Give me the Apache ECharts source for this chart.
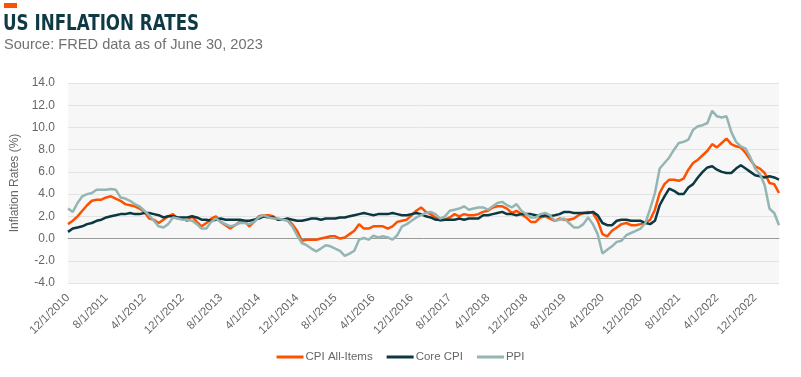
<!DOCTYPE html>
<html>
<head>
<meta charset="utf-8">
<script src="https://cdn.jsdelivr.net/npm/echarts@6/dist/echarts.min.js"></script>
<style>
  html, body { margin: 0; padding: 0; background: #fff; }
  #chart { width: 801px; height: 377px; }
</style>
</head>
<body>
<div id="chart"></div>
<script>
// monthly year-over-year rates, 12/1/2010 .. 5/1/2023
var seriesNames = ['CPI All-Items', 'Core CPI', 'PPI'];
var seriesColors = ['#ff5000', '#0c3841', '#93b5b3'];

var cpiAll = [1.3,
  1.6, 2.0, 2.5, 3.0, 3.4, 3.5, 3.5, 3.7, 3.8, 3.6, 3.4, 3.1,
  3.0, 2.9, 2.7, 2.4, 1.8, 1.7, 1.4, 1.7, 2.0, 2.2, 1.8, 1.8,
  1.6, 2.0, 1.5, 1.1, 1.4, 1.8, 2.0, 1.5, 1.2, 0.9, 1.2, 1.5,
  1.6, 1.1, 1.5, 2.0, 2.1, 2.1, 2.0, 1.7, 1.7, 1.7, 1.3, 0.7,
  -0.2, -0.1, -0.1, -0.1, 0.0, 0.1, 0.2, 0.2, 0.0, 0.1, 0.4, 0.7,
  1.3, 0.9, 0.9, 1.1, 1.1, 1.1, 0.9, 1.1, 1.5, 1.6, 1.7, 2.1,
  2.5, 2.8, 2.4, 2.2, 1.9, 1.6, 1.7, 1.9, 2.2, 2.0, 2.2, 2.1,
  2.1, 2.2, 2.4, 2.5, 2.8, 2.9, 2.9, 2.7, 2.3, 2.5, 2.2, 1.9,
  1.5, 1.5, 1.9, 2.0, 1.8, 1.6, 1.8, 1.7, 1.7, 1.8, 2.1, 2.3,
  2.4, 2.3, 1.6, 0.4, 0.2, 0.7, 1.0, 1.3, 1.4, 1.2, 1.2, 1.3,
  1.4, 1.7, 2.6, 4.1, 4.9, 5.3, 5.3, 5.2, 5.4, 6.2, 6.8, 7.1,
  7.5, 7.9, 8.5, 8.2, 8.6, 9.0, 8.5, 8.3, 8.2, 7.7, 7.1, 6.5,
  6.3, 5.9, 5.0, 4.9, 4.1];

var coreCpi = [0.6,
  0.9, 1.0, 1.1, 1.3, 1.4, 1.6, 1.7, 1.9, 2.0, 2.1, 2.2, 2.2,
  2.3, 2.2, 2.2, 2.3, 2.3, 2.2, 2.1, 1.9, 2.0, 2.0, 1.9, 1.9,
  1.9, 2.0, 1.9, 1.7, 1.7, 1.6, 1.7, 1.8, 1.7, 1.7, 1.7, 1.7,
  1.6, 1.6, 1.7, 1.8, 2.0, 1.9, 1.9, 1.7, 1.7, 1.8, 1.7, 1.6,
  1.6, 1.7, 1.8, 1.8, 1.7, 1.8, 1.8, 1.8, 1.9, 1.9, 2.0, 2.1,
  2.2, 2.3, 2.2, 2.1, 2.2, 2.2, 2.2, 2.3, 2.2, 2.1, 2.1, 2.2,
  2.3, 2.2, 2.0, 1.9, 1.7, 1.7, 1.7, 1.7, 1.7, 1.8, 1.7, 1.8,
  1.8, 1.8, 2.1, 2.1, 2.2, 2.3, 2.4, 2.2, 2.2, 2.1, 2.2, 2.2,
  2.2, 2.1, 2.0, 2.1, 2.0, 2.1, 2.2, 2.4, 2.4, 2.3, 2.3, 2.3,
  2.3, 2.4, 2.1, 1.4, 1.2, 1.2, 1.6, 1.7, 1.7, 1.6, 1.6, 1.6,
  1.4, 1.3, 1.6, 3.0, 3.8, 4.5, 4.3, 4.0, 4.0, 4.6, 4.9, 5.5,
  6.0, 6.4, 6.5, 6.2, 6.0, 5.9, 5.9, 6.3, 6.6, 6.3, 6.0, 5.7,
  5.6, 5.5, 5.6, 5.5, 5.3];

var ppi = [2.7,
  2.4, 3.2, 3.8, 4.0, 4.1, 4.4, 4.4, 4.4, 4.45, 4.4, 3.7, 3.6,
  3.4, 3.1, 2.9, 2.5, 2.1, 1.6, 1.1, 1.0, 1.3, 1.9, 1.8, 1.7,
  1.7, 1.6, 1.3, 0.9, 0.9, 1.5, 1.8, 1.5, 1.3, 1.1, 1.2, 1.4,
  1.4, 1.3, 1.5, 1.9, 2.1, 1.9, 1.8, 1.8, 1.7, 1.6, 1.1, 0.3,
  -0.4, -0.6, -0.9, -1.15, -0.9, -0.6, -0.7, -0.9, -1.1, -1.55, -1.35, -1.1,
  -0.1, 0.05, -0.1, 0.25, 0.1, 0.2, 0.1, -0.1, 0.3, 1.1, 1.3, 1.6,
  1.9, 2.1, 2.3, 2.4, 2.2, 1.8, 2.0, 2.5, 2.6, 2.7, 2.9, 2.6,
  2.7, 2.8, 2.8, 2.6, 2.9, 3.2, 3.3, 3.0, 2.8, 3.1, 2.5, 2.2,
  1.9, 1.9, 2.2, 2.3, 2.1, 1.6, 1.7, 1.8, 1.4, 1.0, 1.0, 1.3,
  1.9, 1.3, 0.4, -1.35, -1.0, -0.7, -0.3, -0.2, 0.3, 0.5, 0.7, 0.9,
  1.4, 2.7, 4.1, 6.3, 6.8, 7.3, 8.0, 8.6, 8.7, 8.9, 9.8, 10.1,
  10.2, 10.4, 11.5, 11.0, 10.9, 11.0, 9.6, 8.7, 8.3, 8.1, 7.3, 6.3,
  5.8, 4.8, 2.7, 2.3, 1.2];

// category labels m/1/yyyy
var months = [];
for (var i = 0; i < cpiAll.length; i++) {
  var m = (11 + i) % 12 + 1;
  var y = 2010 + Math.floor((11 + i) / 12);
  months.push(m + '/1/' + y);
}

var yTicks = { min: -4, max: 14, step: 2 };

var chart = echarts.init(document.getElementById('chart'));
var allData = [cpiAll, coreCpi, ppi];

option = {
  animation: false,
  color: seriesColors,
  graphic: [
    { type: 'rect', left: 4, top: 3, shape: { width: 13, height: 5 }, style: { fill: '#ff4f00' } },
    { type: 'text', x: 3, y: 14, scaleX: 0.885,
      style: { text: 'US INFLATION RATES', fill: '#0f3a44', textVerticalAlign: 'top',
               font: 'bold 21px "Liberation Sans Narrow", "DejaVu Sans Condensed", sans-serif' } },
    { type: 'text', left: 4, top: 37,
      style: { text: 'Source: FRED data as of June 30, 2023', fill: '#707173',
               font: '14.6px "Liberation Sans", sans-serif' } }
  ],
  grid: {
    left: 68, right: 22, top: 83, bottom: 94,
    show: true, backgroundColor: '#f7f7f7', borderWidth: 0
  },
  legend: {
    bottom: 9,
    left: 'center',
    icon: 'rect',
    itemWidth: 27,
    itemHeight: 3,
    itemGap: 14,
    textStyle: { fontSize: 11.5, color: '#666', fontFamily: 'Liberation Sans', padding: [0, 0, 0, -3] },
    data: seriesNames
  },
  xAxis: {
    type: 'category',
    boundaryGap: false,
    data: months,
    axisLine: { onZero: true, lineStyle: { color: '#999', width: 1 } },
    axisTick: { show: false },
    axisLabel: { interval: 7, rotate: 45, fontSize: 11.5, color: '#666',
                 fontFamily: 'Liberation Sans', margin: 13 },
    splitLine: { show: false }
  },
  yAxis: {
    type: 'value',
    min: yTicks.min, max: yTicks.max, interval: yTicks.step,
    name: 'Inflation Rates (%)',
    nameLocation: 'middle',
    nameGap: 40,
    nameTextStyle: { fontSize: 12, color: '#666', fontFamily: 'Liberation Sans' },
    axisLine: { show: false },
    axisTick: { show: false },
    axisLabel: { fontSize: 12, color: '#666', fontFamily: 'Liberation Sans', margin: 13,
                 formatter: function (v) { return v.toFixed(1); } },
    splitLine: { lineStyle: { color: '#e3e3e3', width: 1 } }
  },
  series: seriesNames.map(function (name, k) {
    return {
      name: name,
      type: 'line',
      data: allData[k],
      symbol: 'none',
      lineStyle: { width: 2.5, color: seriesColors[k] }
    };
  })
};

chart.setOption(option);
</script>
</body>
</html>
